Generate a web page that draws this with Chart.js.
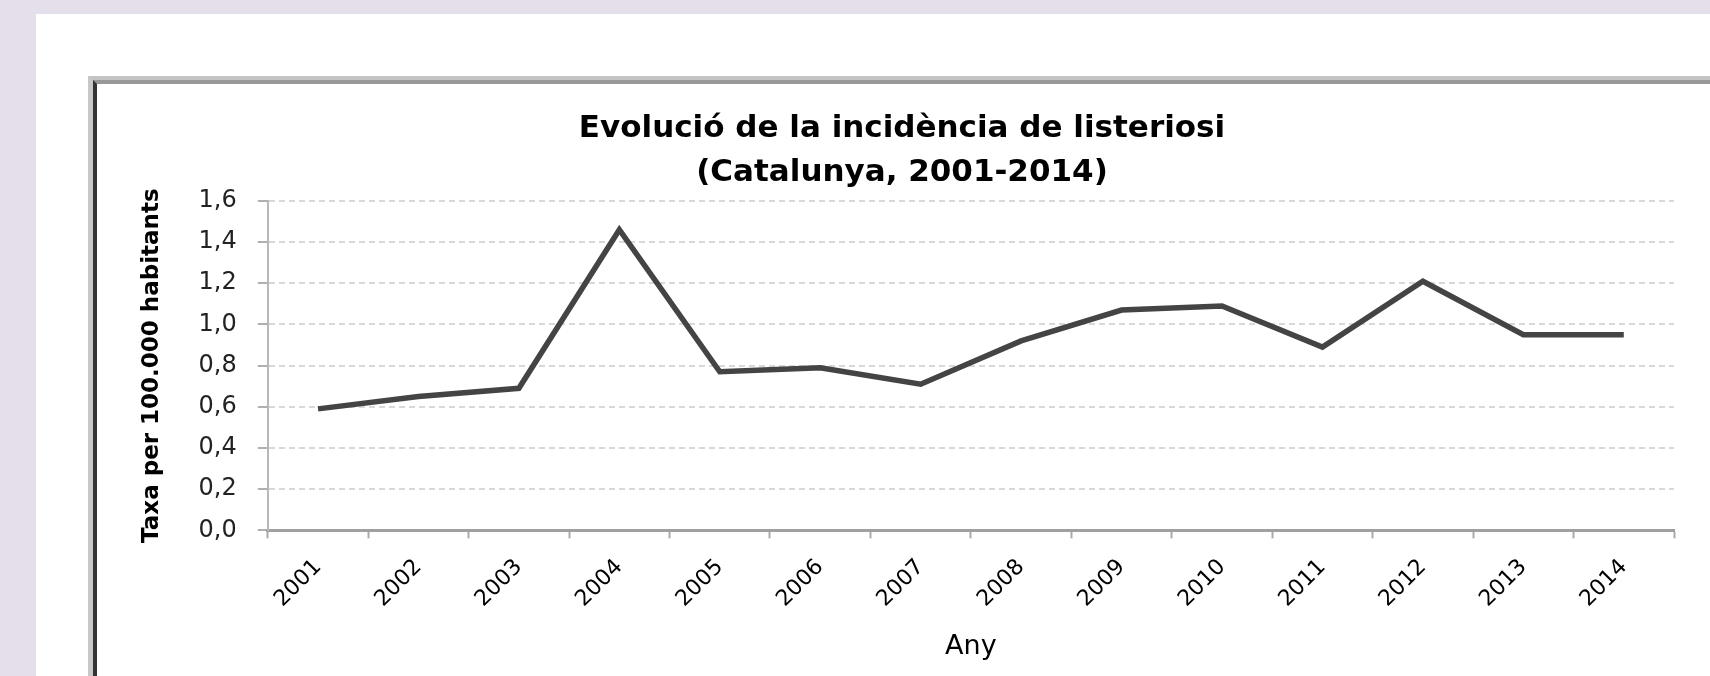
<!DOCTYPE html>
<html>
<head>
<meta charset="utf-8">
<script src="https://cdn.jsdelivr.net/npm/chart.js@4.4.0/dist/chart.umd.min.js"></script>
<style>
    html, body { margin: 0; padding: 0; }
    body { width: 1710px; height: 676px; background: #e4dfea; position: relative; overflow: hidden; }
    .panel { position: absolute; left: 36px; top: 14px; right: 0; bottom: 0; background: #fff; }
    .frame { position: absolute; left: 52px; top: 62px; right: -20px; bottom: -20px;
             border-left: 5px solid #c8c8c8; border-top: 4px solid #c4c4c4; }
    .frame-inner { position: absolute; left: 0; top: 0; right: 0; bottom: 0;
                   border-left: 4px solid #333; border-top: 4px solid #999; }
    .chart-box { position: absolute; left: 0; top: 0; width: 1613px; height: 592px; }
</style>
</head>
<body>
<div class="panel">
    <div class="frame">
        <div class="frame-inner">
            <div class="chart-box"><canvas id="chart"></canvas></div>
        </div>
    </div>
</div>
<script>
const years = ['2001', '2002', '2003', '2004', '2005', '2006', '2007',
               '2008', '2009', '2010', '2011', '2012', '2013', '2014'];
const rates = [0.59, 0.65, 0.69, 1.46, 0.77, 0.79, 0.71,
               0.92, 1.07, 1.09, 0.89, 1.21, 0.95, 0.95];
const titleLines = ['Evolució de la incidència de listeriosi', '(Catalunya, 2001-2014)'];
const yTitle = 'Taxa per 100.000 habitants';
const xTitle = 'Any';

const font = 'DejaVu Sans';

new Chart(document.getElementById('chart'), {
    type: 'line',
    data: {
        labels: years,
        datasets: [{
            data: rates,
            borderColor: '#444',
            borderWidth: 5.5,
            pointRadius: 0,
            tension: 0,
            fill: false
        }]
    },
    options: {
        responsive: true,
        maintainAspectRatio: false,
        animation: false,
        layout: { padding: { left: 33, right: 36, top: 0, bottom: 1 } },
        plugins: {
            legend: { display: false },
            tooltip: { enabled: false },
            title: {
                display: true,
                text: titleLines,
                color: '#000',
                font: { family: font, size: 31, weight: 'bold', lineHeight: 1.45 },
                padding: { top: 22, bottom: 5 }
            }
        },
        scales: {
            x: {
                offset: true,
                grid: {
                    offset: true,
                    drawOnChartArea: false,
                    tickLength: 8,
                    tickColor: '#aaa',
                    tickWidth: 2
                },
                border: { color: '#a0a0a0', width: 3 },
                ticks: {
                    color: '#000',
                    font: { family: font, size: 22 },
                    minRotation: 45,
                    maxRotation: 45,
                    padding: 16
                },
                title: {
                    display: true,
                    text: xTitle,
                    color: '#000',
                    font: { family: font, size: 27 },
                    padding: { top: 2, bottom: 12 }
                }
            },
            y: {
                min: 0,
                max: 1.6,
                ticks: {
                    stepSize: 0.2,
                    color: '#222',
                    font: { family: font, size: 24 },
                    padding: 21,
                    callback: v => v.toFixed(1).replace('.', ',')
                },
                grid: {
                    color: '#d8d8d8',
                    lineWidth: 2,
                    tickLength: 10,
                    tickColor: '#b0b0b0',
                    tickWidth: 2
                },
                border: { color: '#b8b8b8', width: 2, dash: [6, 4] },
                title: {
                    display: true,
                    text: yTitle,
                    color: '#000',
                    font: { family: font, size: 23, weight: 'bold' },
                    padding: { top: 8, bottom: 12 }
                }
            }
        }
    }
});
</script>
</body>
</html>
